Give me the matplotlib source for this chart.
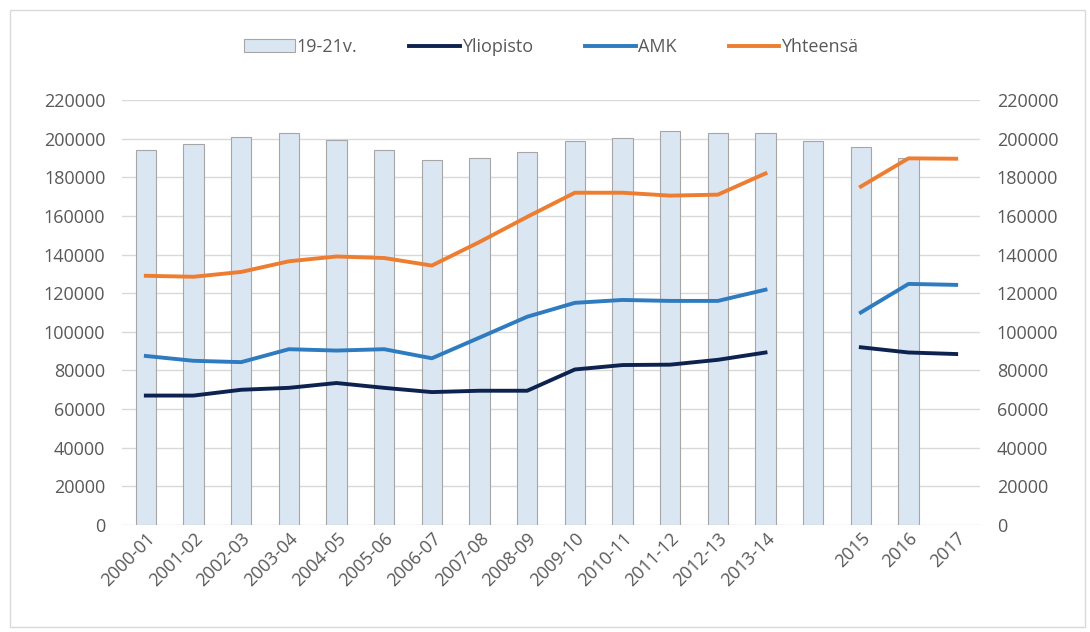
import numpy as np
import matplotlib.pyplot as plt
from matplotlib.patches import Rectangle

plt.rcParams['font.family'] = ['Open Sans', 'DejaVu Sans']

labels = ['2000-01', '2001-02', '2002-03', '2003-04', '2004-05', '2005-06', '2006-07',
          '2007-08', '2008-09', '2009-10', '2010-11', '2011-12', '2012-13', '2013-14',
          '', '2015', '2016', '2017']
ikaluokka = [194000, 197000, 201000, 203000, 199500, 194000, 189000, 189800, 193200, 199000,
             200500, 204000, 203000, 203000, 199000, 195500, 189800, np.nan]
yliopisto = [67000, 67000, 70000, 71000, 73500, 71000, 68800, 69500, 69500, 80500,
             82800, 83000, 85500, 89300, np.nan, 92000, 89300, 88500]
amk = [87500, 85000, 84300, 91000, 90300, 91000, 86300, 97000, 107800, 115000,
       116500, 116000, 116000, 121800, np.nan, 110000, 124800, 124300]
yhteensa = [129000, 128500, 131000, 136500, 139000, 138200, 134300, 146500, 159500, 172000,
            172000, 170500, 171000, 182000, np.nan, 175200, 189800, 189600]

x = np.arange(len(labels))
grey = '#595959'

fig = plt.figure(figsize=(10.9, 6.32), dpi=100)
fig.patches.append(Rectangle((10 / 1090, 5 / 632), 1075 / 1090, 617 / 632, transform=fig.transFigure,
                             fill=False, edgecolor='#d9d9d9', lw=1))
ax = fig.add_axes([122 / 1090, 107 / 632, 858 / 1090, 425 / 632])

b = ax.bar(x, ikaluokka, width=0.42, color='#dbe6f3', edgecolor='#a6a6a6', linewidth=0.8,
           label='19-21v.', zorder=2)
l1, = ax.plot(x, yliopisto, color='#0e2250', lw=2.8, label='Yliopisto', zorder=3, solid_joinstyle='round')
l2, = ax.plot(x, amk, color='#2e7bbf', lw=2.8, label='AMK', zorder=3, solid_joinstyle='round')
l3, = ax.plot(x, yhteensa, color='#ed7d31', lw=2.8, label='Yhteensä', zorder=3, solid_joinstyle='round')

ax.set_xlim(-0.5, len(labels) - 0.5)
ax.set_ylim(0, 220000)
yt = np.arange(0, 220001, 20000)
ax.set_yticks(yt)
ax.set_yticklabels([str(v) for v in yt], color=grey, fontsize=13)
ax.grid(axis='y', color='#d9d9d9', lw=1, zorder=0)
ax.set_axisbelow(True)
for s in ax.spines.values():
    s.set_visible(False)
ax.tick_params(axis='y', length=0, pad=12)
ax.tick_params(axis='x', length=0, pad=3)
ax.set_xticks(x)
ax.set_xticklabels(labels, rotation=45, ha='right', rotation_mode='anchor', color=grey, fontsize=13)

ax2 = ax.twinx()
ax2.set_ylim(0, 220000)
ax2.set_yticks(yt)
ax2.set_yticklabels([str(v) for v in yt], color=grey, fontsize=13)
ax2.tick_params(axis='y', length=0, pad=12)
for s in ax2.spines.values():
    s.set_visible(False)

leg = ax.legend([b, l1, l2, l3], ['19-21v.', 'Yliopisto', 'AMK', 'Yhteensä'],
                loc='center', bbox_to_anchor=(0.5, 1.125), ncol=4, frameon=False,
                fontsize=13, handlelength=2.8, handletextpad=0.1, columnspacing=2.9)
for t in leg.get_texts():
    t.set_color(grey)

fig.savefig('out.png', dpi=100)
